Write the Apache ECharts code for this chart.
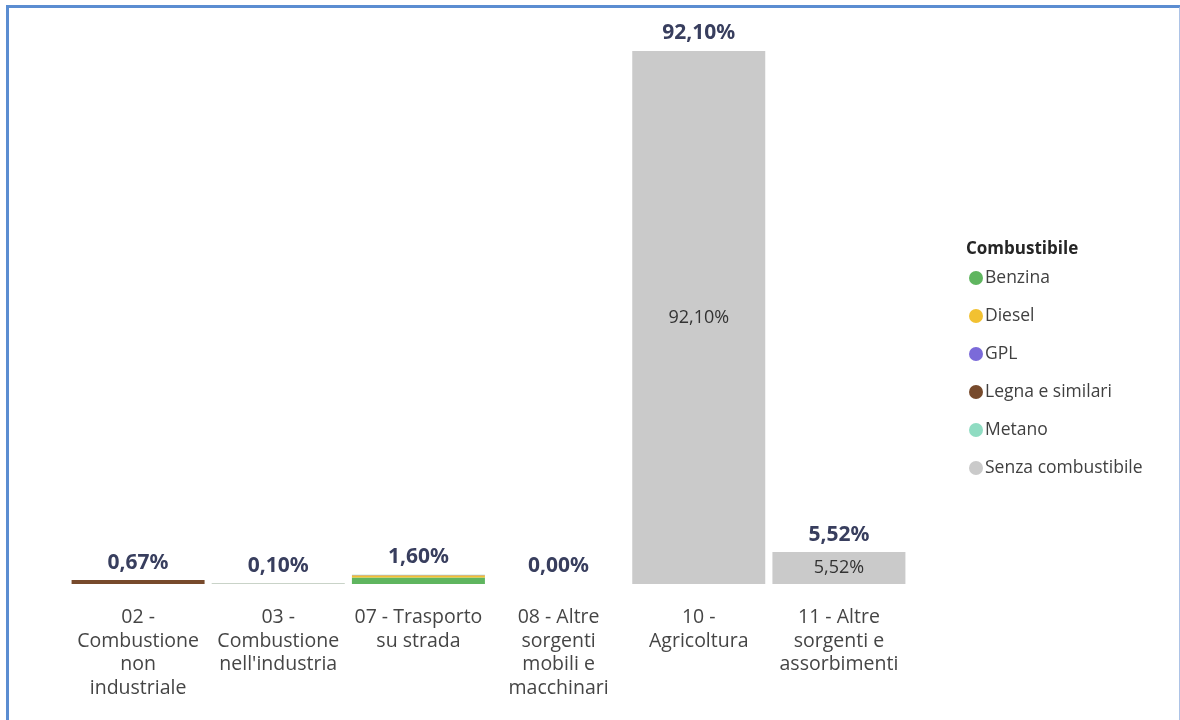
<!DOCTYPE html>
<html>
<head>
<meta charset="utf-8">
<script src="https://cdn.jsdelivr.net/npm/echarts@6/dist/echarts.min.js"></script>
<style>
  html, body { margin: 0; padding: 0; background: #fff; }
  #chart { position: absolute; left: 0; top: 0; width: 1180px; height: 720px; }
  #frame {
    position: absolute; left: 6px; top: 5px; width: 1170px; height: 720px;
    border-left: 3px solid #5b8dd1; border-top: 3px solid #5b8dd1; border-right: 2px solid #adc3e6;
    pointer-events: none;
  }
</style>
</head>
<body>
<div id="chart"></div>
<div id="frame"></div>
<script>
// Emission shares by macro-sector, split by fuel type (%)
const categories = [
  "02 -\nCombustione\nnon\nindustriale",
  "03 -\nCombustione\nnell'industria",
  "07 - Trasporto\nsu strada",
  "08 - Altre\nsorgenti\nmobili e\nmacchinari",
  "10 -\nAgricoltura",
  "11 - Altre\nsorgenti e\nassorbimenti"
];
const fuels = ["Benzina", "Diesel", "GPL", "Legna e similari", "Metano", "Senza combustibile"];
const benzina   = [0,    0,    1.13, 0, 0,     0];
const diesel    = [0,    0,    0.40, 0, 0,     0];
const gpl       = [0,    0,    0.04, 0, 0,     0];
const legna     = [0.67, 0.05, 0,    0, 0,     0];
const metano    = [0,    0.05, 0.03, 0, 0,     0];
const senza     = [0,    0,    0,    0, 92.10, 5.52];
const totals    = [0.67, 0.10, 1.60, 0.00, 92.10, 5.52];

const colors = ["#5fb55f", "#f2c131", "#7b6ad9", "#774a2c", "#8fdcc2", "#cacaca"];
const seriesValues = [benzina, diesel, gpl, legna, metano, senza];

const fmt = v => v.toFixed(2).replace(".", ",") + "%";

const chart = echarts.init(document.getElementById("chart"), null, { renderer: "canvas" });

const barSeries = fuels.map((name, i) => ({
  name,
  type: "bar",
  stack: "tot",
  barWidth: 133,
  itemStyle: { color: colors[i] },
  data: seriesValues[i],
  label: {
    show: name === "Senza combustibile",
    position: "inside",
    color: "#333",
    fontFamily: "Open Sans",
    fontSize: 18,
    formatter: p => (p.value > 1 ? fmt(p.value) : "")
  },
  emphasis: { disabled: true }
}));

chart.setOption({
  animation: false,
  backgroundColor: "#fff",
  grid: { left: 68, right: 271, top: 51, bottom: 136 },
  title: {
    text: "Combustibile",
    left: 961, top: 236,
    textStyle: { fontFamily: "Open Sans", fontSize: 17, fontWeight: "bold", color: "#252525" }
  },
  legend: {
    data: fuels,
    orient: "vertical",
    left: 964, top: 264,
    icon: "circle",
    itemWidth: 14, itemHeight: 14,
    itemGap: 20,
    textStyle: { fontFamily: "Open Sans", fontSize: 17.5, color: "#404040", padding: [0, 0, 0, -3] }
  },
  xAxis: {
    type: "category",
    data: categories,
    axisLine: { show: false },
    axisTick: { show: false },
    axisLabel: {
      interval: 0,
      margin: 22,
      fontFamily: "Open Sans",
      fontSize: 19.5,
      lineHeight: 23.5,
      color: "#454545"
    }
  },
  yAxis: {
    type: "value",
    min: 0,
    max: Math.max(...totals),
    show: false,
    splitLine: { show: false }
  },
  series: [
    ...barSeries,
    {
      // invisible carrier for the total labels above each stack
      name: "Totale",
      type: "line",
      data: totals,
      symbol: "circle",
      symbolSize: 2,
      showSymbol: true,
      itemStyle: { color: "rgba(0,0,0,0)", borderWidth: 0 },
      lineStyle: { width: 0, color: "rgba(0,0,0,0)" },
      silent: true,
      z: 10,
      label: {
        show: true,
        position: "top",
        distance: 6,
        formatter: p => fmt(p.value),
        fontFamily: "Noto Sans",
        fontWeight: "bold",
        fontSize: 21,
        color: "#383e5e"
      }
    }
  ]
});
</script>
</body>
</html>
